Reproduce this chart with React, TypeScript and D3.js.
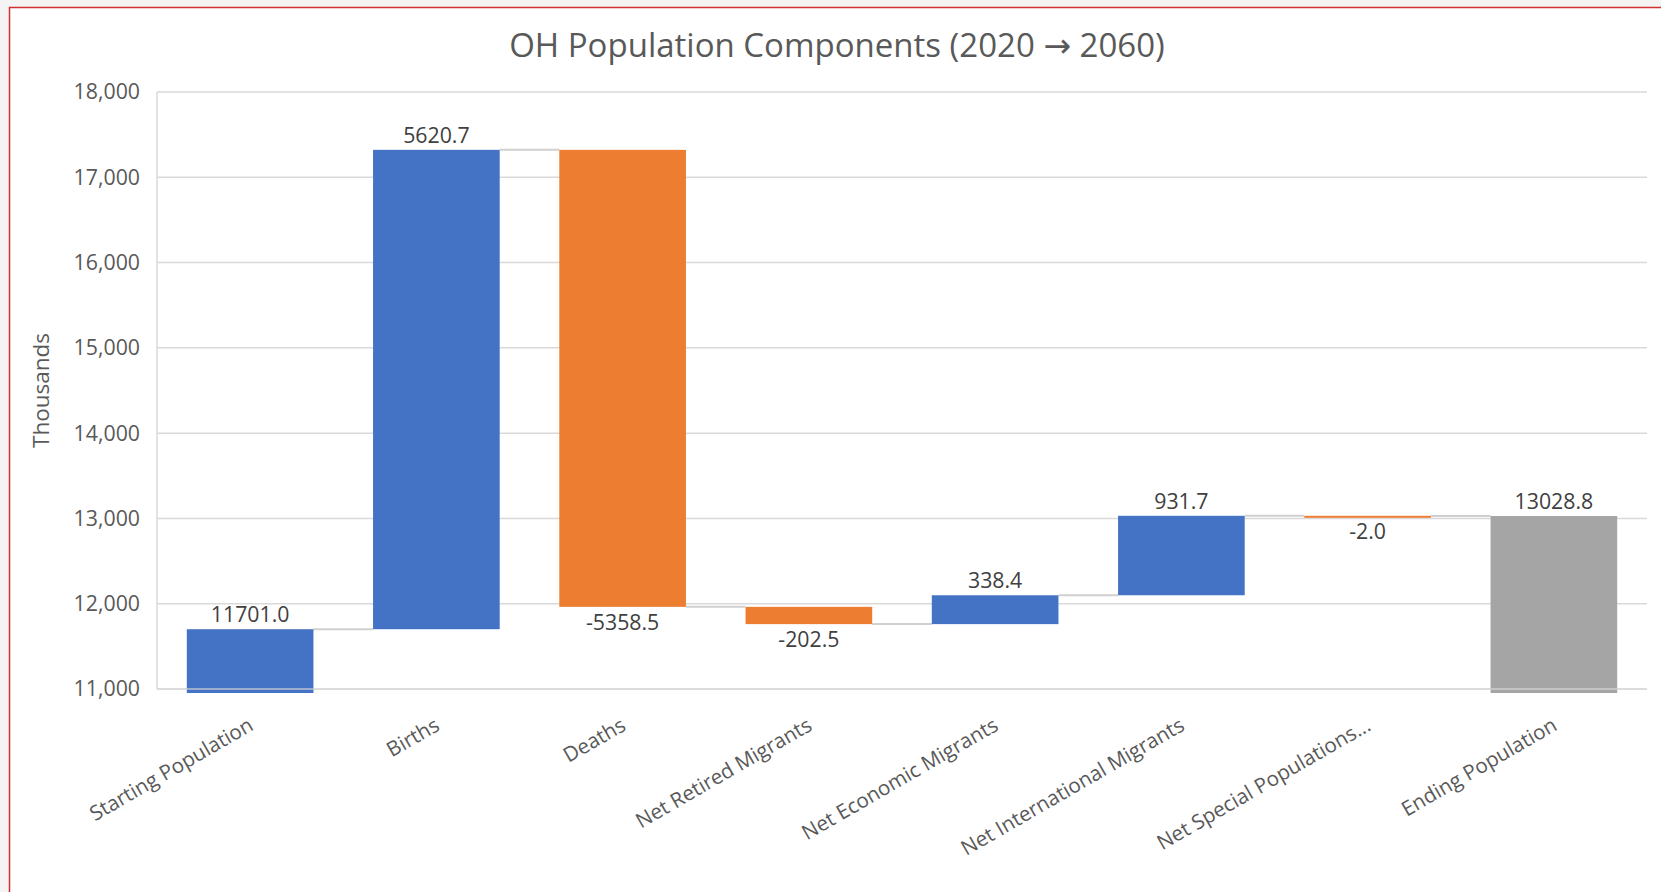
import * as d3 from "d3";
import React, {useEffect, useRef} from "react";

const categories = [
  'Starting Population',
  'Births',
  'Deaths',
  'Net Retired Migrants',
  'Net Economic Migrants',
  'Net International Migrants',
  'Net Special Populations...',
  'Ending Population',
];
const changes = [11701.0, 5620.7, -5358.5, -202.5, 338.4, 931.7, -2.0, 13028.8];
const isTotal = [true, false, false, false, false, false, false, true];
const yTicks = [11000, 12000, 13000, 14000, 15000, 16000, 17000, 18000];

const COLORS = {up: '#4472C4', down: '#ED7D31', total: '#A5A5A5'};
const TEXT = '#595959';
const GRID = '#d9d9d9';
const FONT = '"Open Sans", sans-serif';

const WIDTH = 1661;
const HEIGHT = 892;

const App: React.FC = () => {
  const ref = useRef<SVGSVGElement | null>(null);

  useEffect(() => {
    const svg = d3.select(ref.current);
    svg.selectAll('*').remove();

    const margin = {top: 92, right: 14, bottom: 203, left: 157};

    // page background + red frame
    svg.append('rect').attr('width', WIDTH).attr('height', HEIGHT).attr('fill', '#f4f4f4');
    svg.append('rect')
      .attr('x', 9.5).attr('y', 7.5)
      .attr('width', WIDTH + 20).attr('height', HEIGHT + 20)
      .attr('fill', '#fff').attr('stroke', '#d0312d').attr('stroke-width', 1.5);

    // running totals
    let running = 0;
    const steps = changes.map((v, i) => {
      let start: number, end: number;
      if (isTotal[i]) {
        start = yTicks[0];
        end = v;
        running = v;
      } else {
        start = running;
        end = running + v;
        running = end;
      }
      return {name: categories[i], value: v, start, end, total: isTotal[i]};
    });

    const xScale = d3.scaleBand<string>()
      .domain(categories)
      .range([margin.left, WIDTH - margin.right])
      .paddingInner(0.32)
      .paddingOuter(0.16);

    const yScale = d3.scaleLinear()
      .domain([yTicks[0], yTicks[yTicks.length - 1]])
      .range([HEIGHT - margin.bottom, margin.top]);

    // gridlines
    svg.append('g')
      .selectAll('line')
      .data(yTicks)
      .enter()
      .append('line')
      .attr('x1', margin.left)
      .attr('x2', WIDTH - margin.right)
      .attr('y1', (d) => yScale(d))
      .attr('y2', (d) => yScale(d))
      .attr('stroke', GRID)
      .attr('stroke-width', 1.5);

    svg.append('line')
      .attr('x1', margin.left).attr('x2', margin.left)
      .attr('y1', yScale(yTicks[yTicks.length - 1])).attr('y2', yScale(yTicks[0]))
      .attr('stroke', GRID).attr('stroke-width', 1.5);

    // y tick labels
    svg.append('g')
      .selectAll('text')
      .data(yTicks)
      .enter()
      .append('text')
      .attr('x', margin.left - 17)
      .attr('y', (d) => yScale(d))
      .attr('dy', '0.35em')
      .attr('text-anchor', 'end')
      .attr('fill', TEXT)
      .style('font-family', FONT)
      .style('font-size', '21.3px')
      .text((d) => d3.format(',')(d));

    // connectors
    svg.append('g')
      .selectAll('line')
      .data(steps.slice(0, -1))
      .enter()
      .append('line')
      .attr('x1', (d) => (xScale(d.name) as number) + xScale.bandwidth())
      .attr('x2', (_, i) => xScale(steps[i + 1].name) as number)
      .attr('y1', (d) => yScale(d.end))
      .attr('y2', (d) => yScale(d.end))
      .attr('stroke', '#d0d0d0')
      .attr('stroke-width', 2);

    const colorOf = (d: typeof steps[number]) => d.total ? (d.name.startsWith('Ending') ? COLORS.total : COLORS.up) : (d.value >= 0 ? COLORS.up : COLORS.down);

    // bars
    svg.append('g')
      .selectAll('rect')
      .data(steps)
      .enter()
      .append('rect')
      .attr('x', (d) => xScale(d.name) as number)
      .attr('width', xScale.bandwidth())
      .attr('y', (d) => yScale(Math.max(d.start, d.end)))
      .attr('height', (d) => Math.max(2, Math.abs(yScale(d.start) - yScale(d.end))) + (d.total ? 4 : 0))
      .attr('fill', colorOf);

    // axis line drawn over the totals
    svg.append('line')
      .attr('x1', margin.left).attr('x2', WIDTH - margin.right)
      .attr('y1', yScale(yTicks[0])).attr('y2', yScale(yTicks[0]))
      .attr('stroke', GRID).attr('stroke-width', 1.5).attr('opacity', 0.8);

    // data labels
    svg.append('g')
      .selectAll('text')
      .data(steps)
      .enter()
      .append('text')
      .attr('x', (d) => (xScale(d.name) as number) + xScale.bandwidth() / 2)
      .attr('y', (d) => d.value >= 0 ? yScale(d.end) - 7 : yScale(d.end) + 23)
      .attr('text-anchor', 'middle')
      .attr('fill', '#404040')
      .style('font-family', FONT)
      .style('font-size', '21.3px')
      .text((d) => d.value.toFixed(1));

    // x labels
    svg.append('g')
      .selectAll('text')
      .data(categories)
      .enter()
      .append('text')
      .attr('transform', (d) => `translate(${(xScale(d) as number) + xScale.bandwidth() / 2 + 1}, ${yScale(yTicks[0]) + 34}) rotate(-30)`)
      .attr('text-anchor', 'end')
      .attr('dy', '0.35em')
      .attr('fill', TEXT)
      .style('font-family', FONT)
      .style('font-size', '20.6px')
      .text((d) => d);

    // y axis title
    svg.append('text')
      .attr('transform', `translate(41, ${(yScale(yTicks[0]) + yScale(yTicks[yTicks.length - 1])) / 2}) rotate(-90)`)
      .attr('text-anchor', 'middle')
      .attr('dy', '0.35em')
      .attr('fill', TEXT)
      .style('font-family', FONT)
      .style('font-size', '22.5px')
      .text('Thousands');

    // title
    const title = svg.append('text')
      .attr('x', 837)
      .attr('y', 45)
      .attr('text-anchor', 'middle')
      .attr('dy', '0.35em')
      .attr('fill', TEXT)
      .style('font-family', FONT)
      .style('font-size', '33px');
    title.append('tspan').text('OH Population Components (2020 ');
    title.append('tspan').style('font-family', '"DejaVu Sans", sans-serif').text('\u2192');
    title.append('tspan').text(' 2060)');

    return () => {
      svg.selectAll('*').remove();
    };
  }, []);

  return (
    <div style={{position: 'absolute', left: 0, top: 0}}>
      <svg ref={ref} width={WIDTH} height={HEIGHT} style={{display: 'block'}} />
    </div>
  );
};

export default App;
